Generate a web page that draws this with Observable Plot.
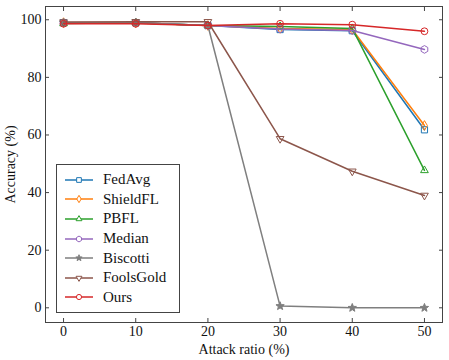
<!DOCTYPE html>
<html>
<head>
<meta charset="utf-8">
<script src="https://cdn.jsdelivr.net/npm/d3@7"></script>
<script src="https://cdn.jsdelivr.net/npm/@observablehq/plot@0.6"></script>
<style>
  html, body { margin: 0; padding: 0; background: #fff; }
  #wrap { position: relative; width: 449px; height: 360px; font-family: "Liberation Serif", "DejaVu Serif", serif; }
  #wrap svg, #wrap svg text { font-family: "Liberation Serif", "DejaVu Serif", serif !important; }
  #legend { position: absolute; left: 56px; top: 164px; width: 124px; height: 149px; border: 1px solid #444; background: #fff; box-sizing: border-box; padding-top: 5px; }
  .item { display: flex; align-items: center; height: 19.6px; font-size: 15px; color: #111; }
  .item svg { margin-left: 8px; margin-right: 10px; }
</style>
</head>
<body>
<div id="wrap"></div>
<script>
const attackRatio = [0, 10, 20, 30, 40, 50];
const seriesNames = ["FedAvg", "ShieldFL", "PBFL", "Median", "Biscotti", "FoolsGold", "Ours"];
const fedavg    = [99.0, 99.0, 98.0, 96.6, 96.2, 61.8];
const shieldfl  = [99.0, 98.9, 98.0, 97.0, 96.6, 63.3];
const pbfl      = [98.7, 99.0, 98.0, 97.7, 97.0, 47.7];
const median    = [99.0, 99.0, 98.0, 96.8, 96.3, 89.7];
const biscotti  = [99.0, 99.0, 98.0, 0.6, 0.0, 0.0];
const foolsgold = [99.2, 99.3, 99.3, 58.7, 47.4, 39.0];
const ours      = [98.6, 98.6, 98.0, 98.6, 98.3, 96.0];
const xTicks = [0, 10, 20, 30, 40, 50];
const yTicks = [0, 20, 40, 60, 80, 100];

const colors = ["#1f77b4", "#ff7f0e", "#2ca02c", "#9467bd", "#7f7f7f", "#8c564b", "#d62728"];
const serif = '"Liberation Serif", "DejaVu Serif", serif';

const thinDiamond = {
  draw(ctx, size) {
    const h = Math.sqrt(size) * 0.78, w = h * 0.6;
    ctx.moveTo(0, -h); ctx.lineTo(w, 0); ctx.lineTo(0, h); ctx.lineTo(-w, 0); ctx.closePath();
  }
};
const triDown = {
  draw(ctx, size) {
    const r = Math.sqrt(size) * 0.72;
    ctx.moveTo(0, r); ctx.lineTo(r * 0.866, -r * 0.5); ctx.lineTo(-r * 0.866, -r * 0.5); ctx.closePath();
  }
};
const triUp = {
  draw(ctx, size) {
    const r = Math.sqrt(size) * 0.72;
    ctx.moveTo(0, -r); ctx.lineTo(r * 0.866, r * 0.5); ctx.lineTo(-r * 0.866, r * 0.5); ctx.closePath();
  }
};
const hexagon = {
  draw(ctx, size) {
    const r = Math.sqrt(size) * 0.62;
    for (let i = 0; i < 6; i++) {
      const a = Math.PI / 3 * i - Math.PI / 2;
      const x = r * Math.cos(a), y = r * Math.sin(a);
      i ? ctx.lineTo(x, y) : ctx.moveTo(x, y);
    }
    ctx.closePath();
  }
};
const square = {
  draw(ctx, size) {
    const s = Math.sqrt(size) * 0.5;
    ctx.rect(-s, -s, 2 * s, 2 * s);
  }
};
const circle = {
  draw(ctx, size) {
    const r = Math.sqrt(size) * 0.55;
    ctx.moveTo(r, 0); ctx.arc(0, 0, r, 0, 2 * Math.PI);
  }
};
const star = {
  draw(ctx, size) {
    const R = Math.sqrt(size) * 0.7, r = R * 0.42;
    for (let i = 0; i < 10; i++) {
      const a = Math.PI / 5 * i - Math.PI / 2;
      const rr = i % 2 ? r : R;
      const x = rr * Math.cos(a), y = rr * Math.sin(a);
      i ? ctx.lineTo(x, y) : ctx.moveTo(x, y);
    }
    ctx.closePath();
  }
};
const symbols = [square, thinDiamond, triUp, hexagon, star, triDown, circle];
const filled = [false, false, false, false, true, false, false];
const values = [fedavg, shieldfl, pbfl, median, biscotti, foolsgold, ours];

const marks = [];
seriesNames.forEach((name, i) => {
  const data = attackRatio.map((x, j) => ({x, y: values[i][j], series: name}));
  marks.push(Plot.line(data, {x: "x", y: "y", stroke: colors[i], strokeWidth: 1.5}));
  marks.push(Plot.dot(data, {x: "x", y: "y", symbol: () => symbols[i], r: 3.5, stroke: colors[i], strokeWidth: 1,
    fill: filled[i] ? colors[i] : "none"}));
});

const chart = Plot.plot({
  width: 449,
  height: 360,
  marginLeft: 45,
  marginRight: 7,
  marginTop: 6,
  marginBottom: 38,
  style: {fontFamily: serif, fontSize: "14px", color: "#111", background: "#fff"},
  x: {domain: [-2.5, 52.5]},
  y: {domain: [-5.1, 104.6]},
  marks: [
    ...marks,
    Plot.frame({stroke: "#444", strokeWidth: 1}),
    Plot.axisX(xTicks, {anchor: "bottom", tickSize: 0, tickPadding: 4, fontSize: 14, fontFamily: serif, label: "Attack ratio (%)", labelAnchor: "center", labelArrow: "none", labelOffset: 31}),
    Plot.axisX(xTicks, {anchor: "bottom", tickSize: -4, tickFormat: () => "", label: null, stroke: "#444"}),
    Plot.axisX(xTicks, {anchor: "top", tickSize: -4, tickFormat: () => "", label: null, stroke: "#444"}),
    Plot.axisY(yTicks, {anchor: "left", tickSize: 0, tickPadding: 4, fontSize: 14, fontFamily: serif, label: "Accuracy (%)", labelAnchor: "center", labelArrow: "none", labelOffset: 40}),
    Plot.axisY(yTicks, {anchor: "left", tickSize: -4, tickFormat: () => "", label: null, stroke: "#444"}),
    Plot.axisY(yTicks, {anchor: "right", tickSize: -4, tickFormat: () => "", label: null, stroke: "#444"})
  ]
});

const wrap = document.getElementById("wrap");
wrap.appendChild(chart);

// Legend
const legend = document.createElement("div");
legend.id = "legend";
seriesNames.forEach((name, i) => {
  const item = document.createElement("div");
  item.className = "item";
  const svg = d3.create("svg").attr("width", 28).attr("height", 12);
  svg.append("line").attr("x1", 0).attr("x2", 28).attr("y1", 6).attr("y2", 6)
    .attr("stroke", colors[i]).attr("stroke-width", 1.5);
  svg.append("path").attr("transform", "translate(14,6)")
    .attr("d", d3.symbol(symbols[i], Math.PI * 7)())
    .attr("stroke", colors[i]).attr("stroke-width", 1)
    .attr("fill", filled[i] ? colors[i] : "#fff");
  item.appendChild(svg.node());
  const span = document.createElement("span");
  span.textContent = name;
  item.appendChild(span);
  legend.appendChild(item);
});
wrap.appendChild(legend);
</script>
</body>
</html>
